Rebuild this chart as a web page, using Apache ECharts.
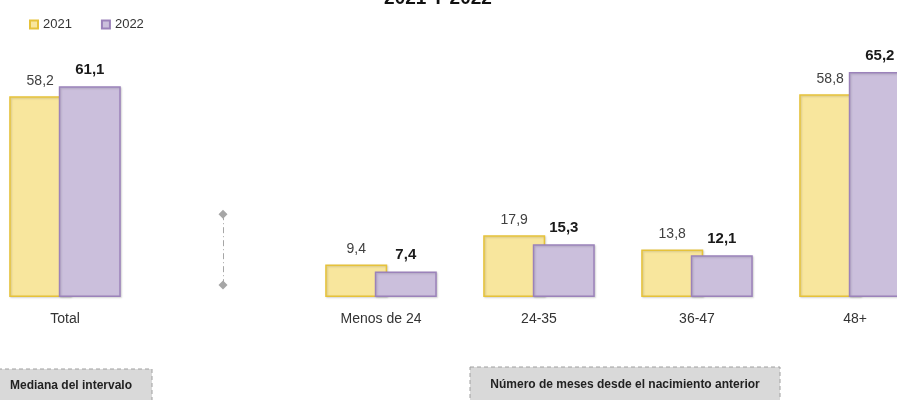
<!DOCTYPE html>
<html>
<head>
<meta charset="utf-8">
<script src="https://cdn.jsdelivr.net/npm/echarts@6/dist/echarts.min.js"></script>
<style>
  html, body { margin: 0; padding: 0; background: #fff; }
  #chart { width: 897px; height: 400px; }
</style>
</head>
<body>
<div id="chart"></div>
<script>
// categories (the empty slot holds the dashed divider)
const categories = ['Total', '', 'Menos de 24', '24-35', '36-47', '48+']
const values2021 = [58.2, null, 9.4, 17.9, 13.8, 58.8]
const values2022 = [61.1, null, 7.4, 15.3, 12.1, 65.2]
const seriesNames = ['2021', '2022']

const fmt = (p) => (p.value == null ? '' : String(p.value).replace('.', ','))

const chart = echarts.init(document.getElementById('chart'), null, { renderer: 'canvas' })

chart.setOption({
  backgroundColor: '#fff',
  animation: false,
  textStyle: { fontFamily: 'Liberation Sans, Arial, sans-serif' },
  title: {
    text: '2021 Y 2022',
    left: 433,
    textAlign: 'center',
    top: -16,
    textStyle: { fontSize: 19, fontWeight: 'bold', color: '#111' }
  },
  legend: {
    data: seriesNames,
    left: 24,
    top: 13,
    itemWidth: 8,
    itemHeight: 8,
    itemGap: 29,
    icon: 'rect',
    textStyle: { fontSize: 13, color: '#333' }
  },
  grid: {
    left: -14,
    right: -37,
    top: 55.5,
    bottom: 103,
    containLabel: false,
    outerBoundsMode: 'none'
  },
  xAxis: {
    type: 'category',
    data: categories,
    axisLine: { show: false },
    axisTick: { show: false },
    axisLabel: { fontSize: 14, color: '#333', margin: 15 }
  },
  yAxis: {
    type: 'value',
    min: 0,
    max: 70,
    show: false,
    splitLine: { show: false }
  },
  series: [
    {
      name: seriesNames[0],
      type: 'bar',
      data: values2021,
      barWidth: 62,
      barGap: '-20%',
      itemStyle: {
        color: '#F8E69D',
        borderColor: '#E6C23A',
        borderWidth: 1.5,
        shadowColor: 'rgba(0,0,0,0.15)',
        shadowBlur: 2,
        shadowOffsetX: 1,
        shadowOffsetY: 1
      },
      label: {
        show: true,
        position: 'top',
        distance: 8,
        fontSize: 14,
        color: '#404040',
        formatter: fmt
      }
    },
    {
      name: seriesNames[1],
      type: 'bar',
      data: values2022,
      barWidth: 62,
      barGap: '-20%',
      itemStyle: {
        color: '#CBBFDC',
        borderColor: '#9B82BA',
        borderWidth: 1.5,
        shadowColor: 'rgba(0,0,0,0.15)',
        shadowBlur: 2,
        shadowOffsetX: 1,
        shadowOffsetY: 1
      },
      label: {
        show: true,
        position: 'top',
        distance: 9,
        fontSize: 15,
        fontWeight: 'bold',
        color: '#1a1a1a',
        formatter: fmt
      }
    },
    {
      // divider between "Total" and the interval groups
      name: 'divider',
      type: 'line',
      data: [],
      silent: true,
      markLine: {
        silent: true,
        symbol: ['diamond', 'diamond'],
        symbolSize: 9,
        label: { show: false },
        lineStyle: { color: '#a6a6a6', width: 1, type: [6, 3, 1, 3] },
        itemStyle: { color: '#a6a6a6' },
        data: [[{ coord: [1, 24] }, { coord: [1, 3.5] }]]
      }
    }
  ],
  graphic: [
    {
      type: 'rect',
      shape: { x: -2, y: 369, width: 154, height: 45 },
      style: { fill: '#d9d9d9', stroke: '#a0a0a0', lineWidth: 1, lineDash: [4, 3] }
    },
    {
      type: 'text',
      x: 10,
      y: 386,
      style: {
        text: 'Mediana del intervalo',
        font: 'bold 12px "Liberation Sans Narrow", "Liberation Sans", sans-serif',
        fill: '#222',
        textVerticalAlign: 'middle'
      }
    },
    {
      type: 'rect',
      shape: { x: 470, y: 367, width: 310, height: 45 },
      style: { fill: '#d9d9d9', stroke: '#a0a0a0', lineWidth: 1, lineDash: [4, 3] }
    },
    {
      type: 'text',
      x: 625,
      y: 385,
      style: {
        text: 'Número de meses desde el nacimiento anterior',
        font: 'bold 12px "Liberation Sans Narrow", "Liberation Sans", sans-serif',
        fill: '#222',
        textAlign: 'center',
        textVerticalAlign: 'middle'
      }
    }
  ]
})
</script>
</body>
</html>
